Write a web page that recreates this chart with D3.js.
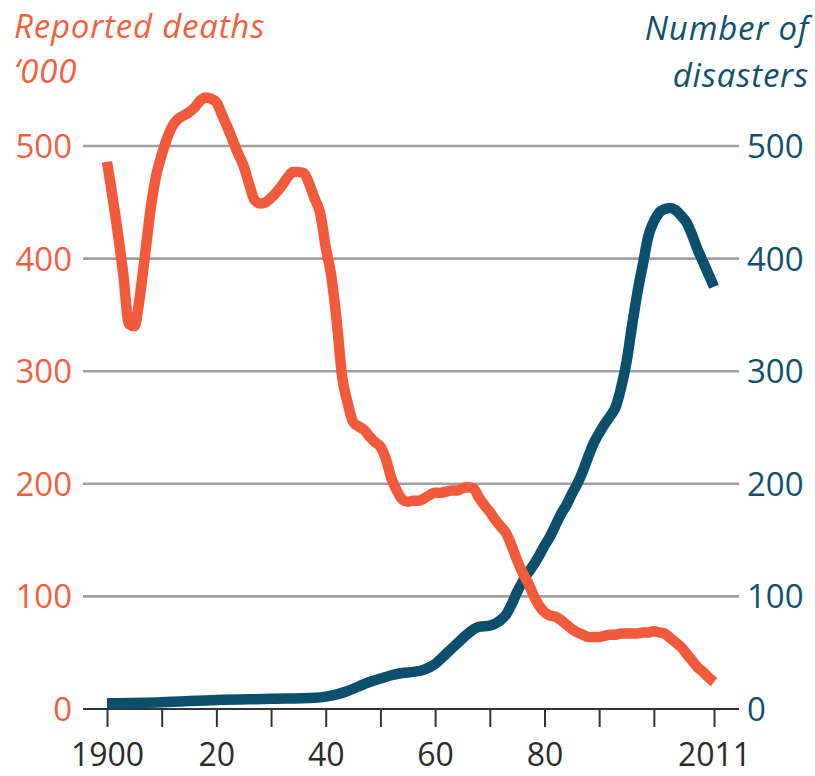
<!DOCTYPE html>
<html>
<head>
<meta charset="utf-8">
<script src="https://cdn.jsdelivr.net/npm/d3@7"></script>
<style>
  html, body { margin: 0; padding: 0; background: #fff; }
  svg { display: block; }
  text { font-family: "Open Sans", "DejaVu Sans", sans-serif; }
</style>
</head>
<body>
<div id="chart"></div>
<script>
// Reported deaths ('000)
var deathYears = [1900, 1902, 1903, 1904, 1905, 1906, 1907, 1908, 1909, 1910,
  1911, 1912, 1913, 1914, 1915, 1916, 1917, 1918, 1919, 1920,
  1921, 1922, 1923, 1924, 1925, 1926, 1927, 1928, 1929, 1930,
  1931, 1932, 1933, 1934, 1935, 1936, 1937, 1938, 1939, 1940,
  1941, 1942, 1943, 1944, 1945, 1946, 1947, 1948, 1949, 1950,
  1951, 1952, 1953, 1954, 1955, 1956, 1957, 1958, 1959, 1960,
  1961, 1962, 1963, 1964, 1965, 1966, 1967, 1968, 1969, 1970,
  1971, 1972, 1973, 1974, 1975, 1976, 1977, 1978, 1979, 1980,
  1981, 1982, 1983, 1984, 1985, 1986, 1987, 1988, 1989, 1990,
  1991, 1992, 1993, 1994, 1995, 1996, 1997, 1998, 1999, 2000,
  2001, 2002, 2003, 2004, 2005, 2006, 2007, 2008, 2009, 2010, 2011];
var deaths = [486, 422, 385, 342, 340, 366, 405, 445, 474, 492,
  507, 518, 524, 527, 530, 534, 540, 543, 542, 539,
  528, 517, 505, 493, 482, 466, 452, 449, 450, 454,
  459, 465, 472, 477, 477, 476, 466, 453, 440, 410,
  385, 345, 295, 272, 255, 251, 248, 242, 237, 233,
  222, 205, 194, 186, 184, 185, 185, 187, 190, 192,
  192, 193, 194, 194, 196, 197, 196, 188, 181, 175,
  168, 162, 156, 145, 132, 121, 112, 101, 92, 86,
  83, 82, 79, 75, 71, 68, 66, 64, 64, 64,
  65, 66, 66, 67, 67, 67, 67, 68, 68, 69,
  68, 67, 63, 59, 55, 49, 43, 37, 33, 28, 24];

// Number of disasters
var disasterYears = [1900, 1910, 1920, 1930, 1938, 1940, 1942, 1944, 1946, 1948,
  1950, 1952, 1954, 1956, 1958, 1960, 1962, 1964, 1966, 1968,
  1970, 1972, 1973, 1974, 1975, 1976, 1977, 1978, 1979, 1980,
  1981, 1982, 1983, 1984, 1985, 1986, 1987, 1988, 1989, 1990,
  1991, 1992, 1993, 1994, 1995, 1996, 1997, 1998, 1999, 2000,
  2001, 2002, 2003, 2004, 2005, 2006, 2007, 2008, 2009, 2010, 2011];
var disasters = [5, 6, 8, 9, 10, 11, 13, 16, 20, 24,
  27, 30, 32, 33, 35, 40, 49, 58, 67, 73,
  74, 79, 84, 93, 104, 113, 121, 128, 136, 145,
  153, 163, 173, 181, 191, 200, 211, 224, 236, 245,
  253, 260, 268, 285, 308, 340, 370, 395, 420, 433,
  441, 444, 445, 443, 438, 432, 421, 408, 397, 386, 375];

var yTicks = [0, 100, 200, 300, 400, 500];
var xTicks = [1900, 1910, 1920, 1930, 1940, 1950, 1960, 1970, 1980, 1990, 2000, 2011];
var xTickLabels = {1900: '1900', 1920: '20', 1940: '40', 1960: '60', 1980: '80', 2011: '2011'};

var WIDTH = 815, HEIGHT = 776;
var ORANGE = '#f15a3b', TEAL = '#0b4f6c';
var ORANGE_TEXT = '#f2603f', TEAL_TEXT = '#12506c';
var GRID_LEFT = 83, GRID_RIGHT = 739;
var FONT_SIZE = 33;
var LINE_WIDTH = 10.5;

var svg = d3.select('#chart').append('svg')
  .attr('width', WIDTH)
  .attr('height', HEIGHT);

var x = d3.scaleLinear().domain([1900, 2011]).range([107, 714]);
var y = d3.scaleLinear().domain([0, 500]).range([709, 146]);

// gridlines
svg.append('g')
  .selectAll('line')
  .data(yTicks.filter((d) => d > 0))
  .enter()
  .append('line')
  .attr('x1', GRID_LEFT)
  .attr('x2', GRID_RIGHT)
  .attr('y1', (d) => y(d))
  .attr('y2', (d) => y(d))
  .style('stroke', '#a0a0a0')
  .style('stroke-width', 2.6);

// x axis: baseline plus ticks
var xAxis = d3.axisBottom(x)
  .tickValues(xTicks)
  .tickSize(18)
  .tickFormat((d) => xTickLabels[d] || '');

var gx = svg.append('g')
  .attr('transform', `translate(0,${y(0)})`)
  .call(xAxis);
gx.select('.domain').remove();
gx.selectAll('.tick line').style('stroke', '#333').style('stroke-width', 2);
gx.selectAll('.tick text')
  .attr('y', 57)
  .attr('dy', 0)
  .style('font-size', '32px')
  .style('font-family', '"Open Sans", sans-serif')
  .style('fill', '#2b2b2b');

svg.append('line')
  .attr('x1', GRID_LEFT)
  .attr('x2', GRID_RIGHT)
  .attr('y1', y(0))
  .attr('y2', y(0))
  .style('stroke', '#333')
  .style('stroke-width', 2);

// left axis (deaths)
svg.append('g')
  .selectAll('text')
  .data(yTicks)
  .enter()
  .append('text')
  .attr('x', 72)
  .attr('y', (d) => y(d) + 12)
  .attr('text-anchor', 'end')
  .style('font-size', FONT_SIZE + 'px')
  .style('fill', ORANGE_TEXT)
  .text((d) => d);

// right axis (disasters)
svg.append('g')
  .selectAll('text')
  .data(yTicks)
  .enter()
  .append('text')
  .attr('x', 747)
  .attr('y', (d) => y(d) + 12)
  .attr('text-anchor', 'start')
  .style('font-size', FONT_SIZE + 'px')
  .style('fill', TEAL_TEXT)
  .text((d) => d);

// lines
var seriesLine = d3.line()
  .x((d) => x(d[0]))
  .y((d) => y(d[1]))
  .curve(d3.curveMonotoneX);

svg.append('path')
  .datum(d3.zip(disasterYears, disasters))
  .attr('d', seriesLine)
  .style('fill', 'none')
  .style('stroke', TEAL)
  .style('stroke-width', LINE_WIDTH)
  .style('stroke-linejoin', 'round');

svg.append('path')
  .datum(d3.zip(deathYears, deaths))
  .attr('d', seriesLine)
  .style('fill', 'none')
  .style('stroke', ORANGE)
  .style('stroke-width', LINE_WIDTH)
  .style('stroke-linejoin', 'round');

// titles
var leftTitle = svg.append('text')
  .attr('x', 14)
  .attr('y', 38)
  .style('font-size', '33px')
  .style('letter-spacing', '0.8px')
  .style('font-style', 'italic')
  .style('fill', ORANGE_TEXT);
leftTitle.append('tspan').attr('x', 14).text('Reported deaths');
leftTitle.append('tspan').attr('x', 14).attr('dy', 45).text('\u2018000');

var rightTitle = svg.append('text')
  .attr('x', 809)
  .attr('y', 40)
  .attr('text-anchor', 'end')
  .style('font-size', '33px')
  .style('letter-spacing', '0.8px')
  .style('font-style', 'italic')
  .style('fill', TEAL_TEXT);
rightTitle.append('tspan').attr('x', 809).text('Number of');
rightTitle.append('tspan').attr('x', 809).attr('dy', 47).text('disasters');
</script>
</body>
</html>
